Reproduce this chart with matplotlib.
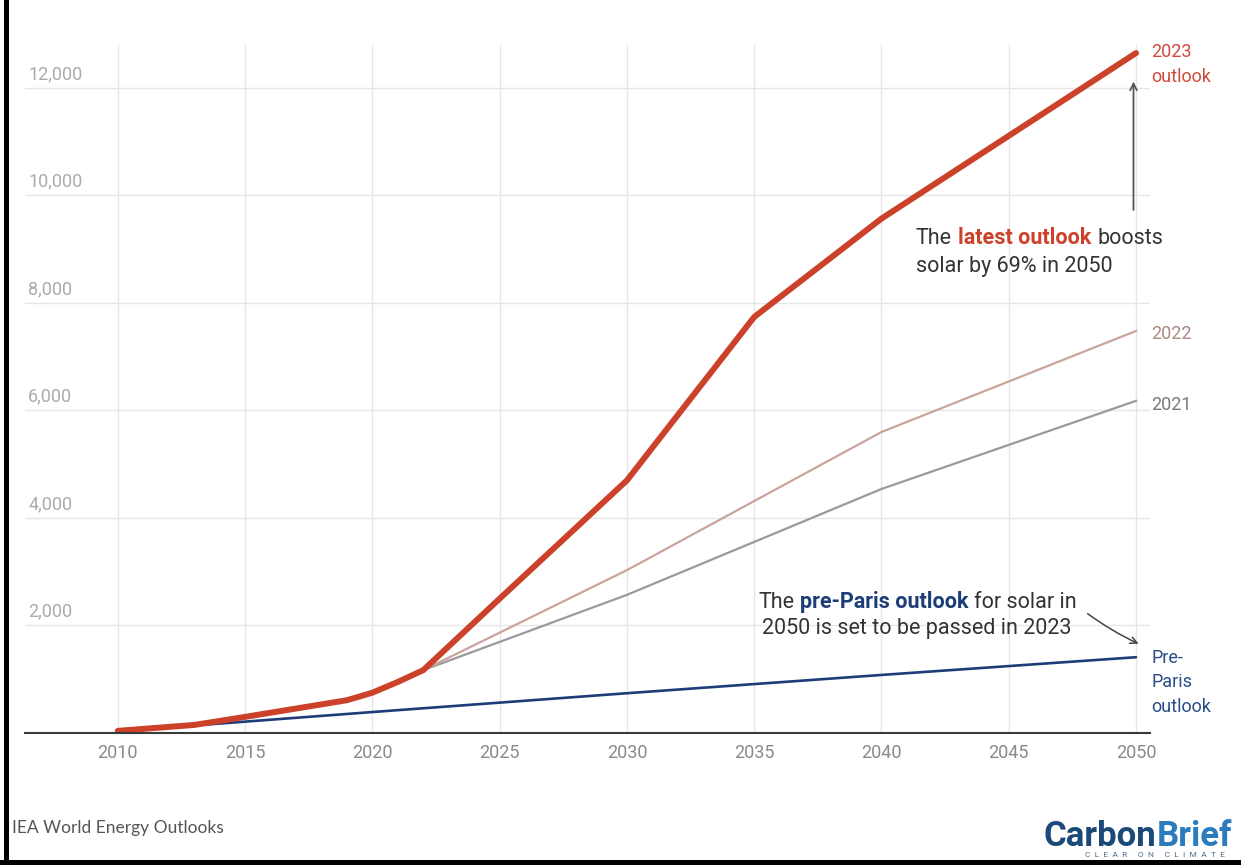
import matplotlib.pyplot as plt
from matplotlib.patches import Rectangle
from matplotlib.transforms import blended_transform_factory

plt.rcParams['font.family'] = ['Roboto', 'DejaVu Sans']

# solar capacity (GW) by outlook
years_2023 = [2010, 2013, 2015, 2019, 2020, 2021, 2022, 2025, 2030, 2035, 2040, 2050]
solar_2023 = [40, 150, 300, 610, 750, 950, 1170, 2500, 4700, 7740, 9570, 12650]

years_2022 = [2022, 2030, 2040, 2050]
solar_2022 = [1170, 3030, 5600, 7480]

years_2021 = [2022, 2030, 2040, 2050]
solar_2021 = [1170, 2570, 4540, 6180]

years_preparis = [2010, 2013, 2020, 2030, 2040, 2050]
solar_preparis = [40, 140, 390, 740, 1080, 1410]

xticks = [2010, 2015, 2020, 2025, 2030, 2035, 2040, 2045, 2050]
yticks = [2000, 4000, 6000, 8000, 10000, 12000]

RED = '#cc4129'
PINK = '#c9a59c'
GREY = '#9a9a9a'
NAVY = '#1d3d78'
TXT = '#333333'

fig = plt.figure(figsize=(12.41, 8.65), dpi=100)
ax = fig.add_axes([0.0201, 0.1526, 0.9066, 0.7954])

ax.plot(years_preparis, solar_preparis, color=NAVY, lw=1.9, solid_capstyle='round')
ax.plot(years_2021, solar_2021, color=GREY, lw=1.6)
ax.plot(years_2022, solar_2022, color=PINK, lw=1.6)
ax.plot(years_2023, solar_2023, color=RED, lw=4.3, solid_capstyle='round', solid_joinstyle='round')

ax.set_xlim(2006.35, 2050.55)
ax.set_ylim(0, 12800)
ax.set_xticks(xticks)
ax.set_xticklabels([str(y) for y in xticks])
ax.set_yticks(yticks)
ax.tick_params(axis='x', length=0, pad=8, labelsize=13, labelcolor='#8a8a8a')
ax.tick_params(axis='y', length=0, labelleft=False)
ax.grid(True, color='#e6e6e6', lw=1)
ax.set_axisbelow(True)
for s in ['top', 'right', 'left']:
    ax.spines[s].set_visible(False)
ax.spines['bottom'].set_color('#3a3a3a')
ax.spines['bottom'].set_linewidth(1.5)

# y labels sit above their gridlines
tr = blended_transform_factory(ax.transAxes, ax.transData)
for v in yticks:
    ax.annotate(f'{v:,}', xy=(0.003, v), xycoords=tr, xytext=(0, 10),
                textcoords='offset points', ha='left', va='center',
                fontsize=13, color='#ababab')

# line end labels
ax.text(2050.6, 12830, '2023\noutlook', color='#cf4a3c', fontsize=13, va='top',
        ha='left', linespacing=1.45, clip_on=False)
ax.text(2050.6, 7420, '2022', color='#a88a82', fontsize=13, va='center', clip_on=False)
ax.text(2050.6, 6100, '2021', color='#7a7a7a', fontsize=13, va='center', clip_on=False)
ax.text(2050.6, 1560, 'Pre-\nParis\noutlook', color='#2a4c86', fontsize=13, va='top',
        ha='left', linespacing=1.45, clip_on=False)


def rich_line(x, y, parts, size=15.5):
    prev = None
    for txt, color, weight in parts:
        if prev is None:
            prev = ax.text(x, y, txt, color=color, fontweight=weight, fontsize=size,
                           va='bottom', ha='left')
        else:
            prev = ax.annotate(txt, xy=(1, 0), xycoords=prev, xytext=(4.3, 0),
                               textcoords='offset points', color=color,
                               fontweight=weight, fontsize=size, va='bottom', ha='left')


rich_line(2041.35, 9000, [('The', TXT, 'normal'), ('latest outlook', RED, 'bold'),
                          ('boosts', TXT, 'normal')])
rich_line(2041.35, 8490, [('solar by 69% in 2050', TXT, 'normal')])

rich_line(2035.15, 2230, [('The', TXT, 'normal'), ('pre-Paris outlook', NAVY, 'bold'),
                          ('for solar in', TXT, 'normal')])
rich_line(2035.3, 1740, [('2050 is set to be passed in 2023', TXT, 'normal')])

ax.annotate('', xy=(2049.9, 12120), xytext=(2049.9, 9730),
            arrowprops=dict(arrowstyle='->', color='#555555', lw=1.3,
                            shrinkA=0, shrinkB=0, mutation_scale=12))
ax.annotate('', xy=(2050.1, 1660), xytext=(2048.1, 2220),
            arrowprops=dict(arrowstyle='->', color='#444444', lw=1.1,
                            shrinkA=0, shrinkB=0, mutation_scale=12,
                            connectionstyle='arc3,rad=0.05'))

# footer
fig.text(0.0097, 0.0425, 'IEA World Energy Outlooks', fontsize=12.5, color='#555555',
         family=['Lato', 'DejaVu Sans'], va='center', ha='left')
fig.text(0.932, 0.0215, 'Carbon', fontsize=25, fontweight='bold', color='#1b4a78',
         ha='right', va='baseline')
fig.text(0.932, 0.0215, 'Brief', fontsize=25, fontweight='bold', color='#2c7bbd',
         ha='left', va='baseline')
fig.text(0.874, 0.0115, 'C  L  E  A  R     O  N     C  L  I  M  A  T  E', fontsize=6,
         color='#4d6f90', ha='left', va='center')

# frame of the screenshot
fig.add_artist(Rectangle((0.0035, 0), 0.0035, 1, transform=fig.transFigure,
                         color='black', lw=0))
fig.add_artist(Rectangle((0, 0), 1, 0.0055, transform=fig.transFigure,
                         color='black', lw=0))

fig.savefig('out.png', dpi=100)
